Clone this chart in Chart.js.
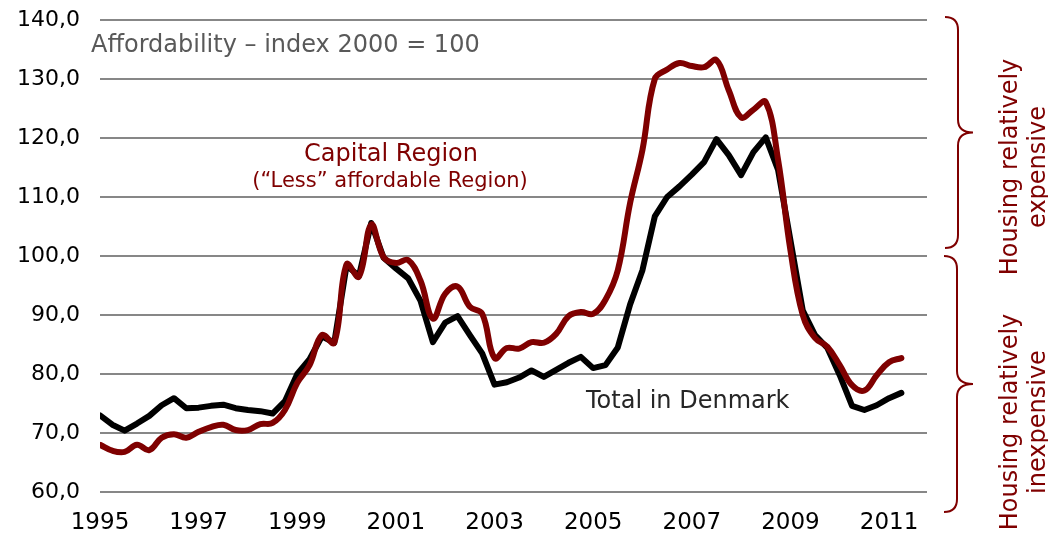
<!DOCTYPE html>
<html>
<head>
<meta charset="utf-8">
<script src="https://cdn.jsdelivr.net/npm/chart.js@4"></script>
<style>
  html, body { margin: 0; padding: 0; background: #fff; }
  #wrap { width: 1048px; height: 534px; }
</style>
</head>
<body>
<div id="wrap"><canvas id="afford_chart"></canvas></div>
<script>
// quarterly, 1995 Q1 .. 2011 Q2
var startYear = 1995;
var yearTicks = [1995, 1997, 1999, 2001, 2003, 2005, 2007, 2009, 2011];

var capital = [
    68.0, 67.0, 66.8, 68.0, 67.1, 69.2, 69.8, 69.2,
    70.2, 71.0, 71.4, 70.5, 70.5, 71.5, 71.7, 73.9,
    78.5, 81.5, 86.6, 85.3, 98.6, 96.5, 105.3, 99.8,
    98.8, 99.3, 95.8, 89.4, 93.6, 94.8, 91.4, 90.2,
    82.7, 84.4, 84.3, 85.4, 85.3, 86.8, 89.8, 90.5,
    90.2, 92.6, 97.6, 109.0, 118.0, 130.0, 131.6, 132.7,
    132.2, 132.0, 133.2, 128.1, 123.5, 124.8, 126.1, 116.3,
    101.0, 90.0, 86.1, 84.6, 81.5, 78.1, 77.2, 79.8,
    82.0, 82.7
];

var denmark = [
    73.0, 71.4, 70.4, 71.6, 72.9, 74.7, 75.9, 74.2,
    74.3, 74.6, 74.8, 74.2, 73.9, 73.7, 73.3, 75.4,
    80.0, 82.5, 86.4, 85.3, 98.4, 96.6, 105.6, 99.7,
    97.9, 96.2, 92.4, 85.4, 88.7, 89.8, 86.6, 83.5,
    78.2, 78.6, 79.4, 80.6, 79.5, 80.7, 81.9, 82.9,
    81.0, 81.5, 84.5, 91.8, 97.6, 106.7, 110.0, 111.8,
    113.8, 115.9, 119.8, 117.1, 113.7, 117.6, 120.1, 114.6,
    102.7, 90.8, 86.6, 84.4, 79.8, 74.6, 73.9, 74.7,
    75.9, 76.8
];

var darkRed = '#7f0000';

function toPoints(values) {
    var pts = [];
    for (var i in values) {
        pts.push({ x: startYear + i / 4, y: values[i] });
    }
    return pts;
}

function drawBrace(ctx, x0, top, bottom, depth) {
    var mid = (top + bottom) / 2;
    var r = 13;
    var xs = x0 + r;
    ctx.beginPath();
    ctx.moveTo(x0, top);
    ctx.quadraticCurveTo(xs, top, xs, top + r);
    ctx.lineTo(xs, mid - r);
    ctx.quadraticCurveTo(xs, mid, x0 + depth, mid);
    ctx.quadraticCurveTo(xs, mid, xs, mid + r);
    ctx.lineTo(xs, bottom - r);
    ctx.quadraticCurveTo(xs, bottom, x0, bottom);
    ctx.stroke();
}

var annotations = {
    id: 'annotations',
    afterDraw: function (chart) {
        var ctx = chart.ctx;
        ctx.save();
        ctx.textBaseline = 'middle';

        ctx.textAlign = 'left';
        ctx.fillStyle = '#595959';
        ctx.font = '24px "DejaVu Sans"';
        ctx.fillText('Affordability \u2013 index 2000 = 100', 91, 46);

        ctx.fillStyle = '#262626';
        ctx.fillText('Total in Denmark', 586, 402);

        ctx.textAlign = 'center';
        ctx.fillStyle = darkRed;
        ctx.fillText('Capital Region', 391, 155);
        ctx.font = '21px "DejaVu Sans"';
        ctx.fillText('(\u201cLess\u201d affordable Region)', 390, 182);

        ctx.strokeStyle = darkRed;
        ctx.lineWidth = 2;
        drawBrace(ctx, 945, 17, 248, 28);
        drawBrace(ctx, 944, 256, 512, 29);

        ctx.font = '24px "DejaVu Sans"';
        ctx.save();
        ctx.translate(1011, 167);
        ctx.rotate(-Math.PI / 2);
        ctx.fillText('Housing relatively', 0, 0);
        ctx.fillText('expensive', 0, 28);
        ctx.restore();

        ctx.save();
        ctx.translate(1011, 422);
        ctx.rotate(-Math.PI / 2);
        ctx.fillText('Housing relatively', 0, 0);
        ctx.fillText('inexpensive', 0, 28);
        ctx.restore();

        ctx.restore();
    }
};

var ctx = document.getElementById('afford_chart');

var lineGraph = new Chart(ctx, {
    type: 'line',
    data: {
        datasets: [
            {
                label: 'Capital Region',
                data: toPoints(capital),
                borderColor: darkRed,
                borderWidth: 6,
                tension: 0.4,
                pointRadius: 0,
                borderCapStyle: 'round',
                borderJoinStyle: 'round',
                fill: false
            },
            {
                label: 'Total in Denmark',
                data: toPoints(denmark),
                borderColor: '#000000',
                borderWidth: 6,
                tension: 0,
                pointRadius: 0,
                borderCapStyle: 'round',
                borderJoinStyle: 'round',
                fill: false
            }
        ]
    },
    options: {
        responsive: true,
        maintainAspectRatio: false,
        animation: false,
        layout: { padding: { top: 20, right: 121, left: 0, bottom: 0 } },
        plugins: {
            legend: { display: false },
            tooltip: { enabled: false }
        },
        scales: {
            x: {
                type: 'linear',
                min: 1995,
                max: 2011.77,
                afterBuildTicks: function (scale) {
                    scale.ticks = yearTicks.map(function (v) { return { value: v }; });
                },
                afterFit: function (scale) {
                    scale.height = 42;
                    scale.paddingLeft = 0;
                    scale.paddingRight = 0;
                },
                grid: { display: false },
                border: { display: false },
                ticks: {
                    color: '#000',
                    padding: 9,
                    maxRotation: 0,
                    autoSkip: false,
                    font: { family: 'DejaVu Sans', size: 23 },
                    callback: function (v) { return String(v); }
                }
            },
            y: {
                min: 60,
                max: 140,
                afterFit: function (scale) {
                    scale.width = 100;
                    scale.paddingTop = 0;
                    scale.paddingBottom = 0;
                },
                grid: { color: '#878787', lineWidth: 2, drawTicks: false },
                border: { display: false },
                ticks: {
                    stepSize: 10,
                    color: '#000',
                    padding: 20,
                    font: { family: 'DejaVu Sans', size: 22 },
                    callback: function (v) { return v.toFixed(1).replace('.', ','); }
                }
            }
        }
    },
    plugins: [annotations]
});
</script>
</body>
</html>
